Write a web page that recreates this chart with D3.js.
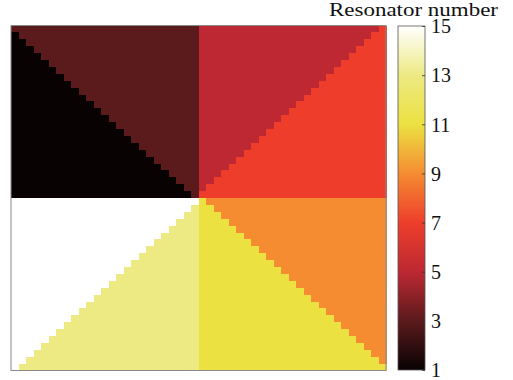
<!DOCTYPE html>
<html>
<head>
<meta charset="utf-8">
<script src="https://cdn.jsdelivr.net/npm/d3@7/dist/d3.min.js"></script>
<style>
html,body{margin:0;padding:0;background:#fff;}
svg{display:block;}
text{font-family:"Liberation Serif","DejaVu Serif",serif;fill:#111;}
</style>
</head>
<body>
<svg id="chart" width="513" height="380"></svg>
<script>
// ---- data ----
const nCols = 50;
const nRows = 50;
// resonator number per 45° sector, sectors counted by k = ceil(angle/45°), k = -3..4
const sectorK = [-3, -2, -1, 0, 1, 2, 3, 4];
const sectorValues = [15, 13, 11, 9, 7, 5, 3, 1];
// colour stops of the colormap (as seen in the picture)
const cmapStops = [1, 3, 5, 7, 9, 11, 13, 15];
const cmapColors = ["#080203", "#5b1a1c", "#bd2832", "#ee3e2b", "#f58c32", "#ebe141", "#ede983", "#ffffff"];
const cbTicks = [1, 3, 5, 7, 9, 11, 13, 15];
const cbTitle = "Resonator number";

// ---- build grid ----
const valueOfK = new Map(sectorK.map((k, i) => [k, sectorValues[i]]));
const cells = [];
for (let r = 0; r < nRows; r++) {
  for (let c = 0; c < nCols; c++) {
    const x = c - (nCols - 1) / 2;
    const y = (nRows - 1) / 2 - r;
    let ang = Math.atan2(y, x) * 180 / Math.PI;
    const k = Math.ceil(Math.round(ang * 1e6) / 1e6 / 45);
    cells.push({r, c, v: valueOfK.get(k)});
  }
}

const svg = d3.select("#chart");
const plot = {x0: 11, x1: 386, y0: 25.5, y1: 370.5};
const cb = {x0: 398, x1: 425, y0: 26, y1: 370};

const xs = d3.scaleBand().domain(d3.range(nCols)).range([plot.x0, plot.x1]);
const ys = d3.scaleBand().domain(d3.range(nRows)).range([plot.y0, plot.y1]);
const color = d3.scaleLinear().domain(cmapStops).range(cmapColors).interpolate(d3.interpolateRgb);

svg.append("g").attr("shape-rendering", "crispEdges")
  .selectAll("rect").data(cells).join("rect")
  .attr("x", d => xs(d.c))
  .attr("y", d => ys(d.r))
  .attr("width", xs.bandwidth() + 0.6)
  .attr("height", ys.bandwidth() + 0.6)
  .attr("fill", d => color(d.v));

svg.append("rect")
  .attr("x", plot.x0).attr("y", plot.y0)
  .attr("width", plot.x1 - plot.x0).attr("height", plot.y1 - plot.y0)
  .attr("fill", "none").attr("stroke", "#8a8a8a").attr("stroke-width", 1);

// ---- colorbar ----
const cy = d3.scaleLinear().domain([1, 15]).range([cb.y1, cb.y0]);
const defs = svg.append("defs");
const grad = defs.append("linearGradient").attr("id", "cbgrad")
  .attr("x1", 0).attr("y1", 1).attr("x2", 0).attr("y2", 0);
grad.selectAll("stop").data(d3.range(0, 1.0001, 1 / 56)).join("stop")
  .attr("offset", d => d)
  .attr("stop-color", d => color(1 + 14 * d));

svg.append("rect")
  .attr("x", cb.x0).attr("y", cb.y0)
  .attr("width", cb.x1 - cb.x0).attr("height", cb.y1 - cb.y0)
  .attr("fill", "url(#cbgrad)")
  .attr("stroke", "#555").attr("stroke-width", 0.8);

const axis = d3.axisRight(cy).tickValues(cbTicks).tickSize(-3).tickPadding(6).tickFormat(d3.format("d"));
const ag = svg.append("g").attr("transform", `translate(${cb.x1},0)`).call(axis);
ag.select(".domain").remove();
ag.selectAll(".tick line").attr("stroke", "#333").attr("stroke-width", 0.8);
ag.selectAll(".tick text")
  .style("font-family", '"Liberation Serif","DejaVu Serif",serif')
  .style("font-size", "20px")
  .attr("fill", "#111")
  .attr("dy", "0.34em");

svg.append("text")
  .attr("x", 329).attr("y", 16)
  .attr("textLength", 169)
  .attr("lengthAdjust", "spacingAndGlyphs")
  .style("font-size", "19px")
  .text(cbTitle);
</script>
</body>
</html>
